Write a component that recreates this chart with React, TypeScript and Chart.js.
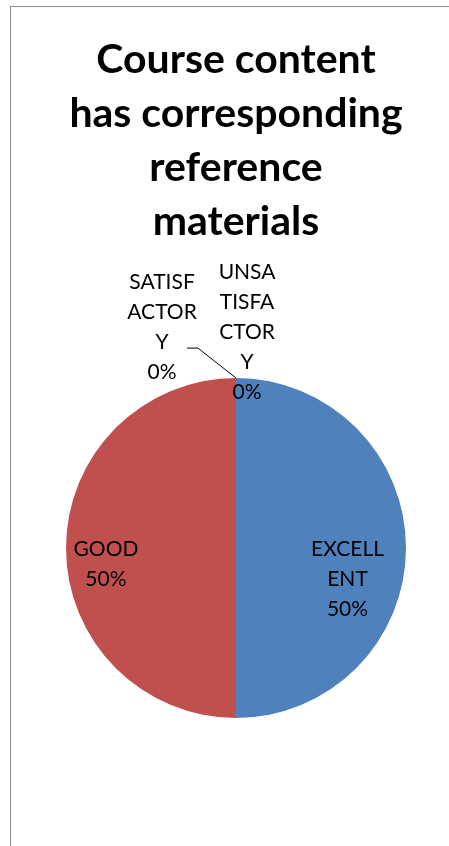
import React, { useEffect, useRef } from 'react';
import { Chart, registerables } from 'chart.js';

Chart.register(...registerables);

const titleLines = ['Course content', 'has corresponding', 'reference', 'materials'];
const categories = ['EXCELLENT', 'GOOD', 'SATISFACTORY', 'UNSATISFACTORY'];
const values = [50, 50, 0, 0];
const colors = ['#4F81BD', '#C0504D', '#9BBB59', '#8064A2'];
// how each category name is wrapped (characters per line) in its data label
const labelChunks = [[6, 3], [4], [6, 5, 1], [4, 5, 4, 1]];

// label block centres relative to the pie centre, in units of the radius
const placements = [
  { dx: 0.656, dy: 0.182 },
  { dx: -0.765, dy: 0.094 },
  { dx: -0.435, dy: -1.297, leader: [[-0.288, -1.176], [-0.224, -1.176]] },
  { dx: 0.065, dy: -1.271 },
];

function splitLabel(text: string, chunks: number[]): string[] {
  const out: string[] = [];
  let pos = 0;
  for (const n of chunks) {
    out.push(text.slice(pos, pos + n));
    pos += n;
  }
  if (pos < text.length) out.push(text.slice(pos));
  return out;
}

const pieLabels = {
  id: 'pieLabels',
  afterDatasetsDraw(chart: any) {
    const ctx = chart.ctx as CanvasRenderingContext2D;
    const meta = chart.getDatasetMeta(0);
    const data = chart.data.datasets[0].data as number[];
    const labels = chart.data.labels as string[];
    const total = data.reduce((a, b) => a + b, 0);
    ctx.save();
    ctx.font = '21px Lato';
    ctx.fillStyle = '#000';
    ctx.textAlign = 'center';
    ctx.textBaseline = 'middle';
    meta.data.forEach((arc: any, i: number) => {
      const { x, y, outerRadius, startAngle, endAngle } = arc.getProps(
        ['x', 'y', 'outerRadius', 'startAngle', 'endAngle'],
        true
      );
      const p = placements[i];
      const cx = x + p.dx * outerRadius;
      const cy = y + p.dy * outerRadius;
      const lines = splitLabel(labels[i], labelChunks[i]);
      lines.push(Math.round((data[i] / total) * 100) + '%');
      const lh = 30;
      lines.forEach((t, k) => {
        ctx.fillText(t, cx, cy + (k - (lines.length - 1) / 2) * lh);
      });
      if (p.leader) {
        const a = (startAngle + endAngle) / 2;
        ctx.beginPath();
        ctx.strokeStyle = '#000';
        ctx.lineWidth = 1;
        ctx.moveTo(x + p.leader[0][0] * outerRadius, y + p.leader[0][1] * outerRadius);
        ctx.lineTo(x + p.leader[1][0] * outerRadius, y + p.leader[1][1] * outerRadius);
        ctx.lineTo(x + Math.cos(a) * outerRadius, y + Math.sin(a) * outerRadius);
        ctx.stroke();
      }
    });
    ctx.restore();
  },
};

export default function App() {
  const ref = useRef<HTMLCanvasElement | null>(null);

  useEffect(() => {
    if (!ref.current) return;
    const chart = new Chart(ref.current, {
      type: 'pie',
      data: {
        labels: categories,
        datasets: [
          {
            data: values,
            backgroundColor: colors,
            borderWidth: 0,
          },
        ],
      },
      options: {
        responsive: false,
        animation: false,
        devicePixelRatio: 1,
        layout: { padding: { left: 0, right: 0, top: 0, bottom: 139 } },
        plugins: {
          legend: { display: false },
          tooltip: { enabled: false },
          title: {
            display: true,
            text: titleLines,
            color: '#000',
            font: { family: 'Lato', size: 41, weight: 'bold', lineHeight: 54 / 41 },
            padding: { top: 26, bottom: 129 },
          },
        },
      },
      plugins: [pieLabels],
    });
    return () => chart.destroy();
  }, []);

  return (
    <div
      style={{
        position: 'fixed',
        left: 0,
        top: 0,
        width: 449,
        height: 846,
        overflow: 'hidden',
        background: '#fff',
      }}
    >
      <div
        style={{
          position: 'absolute',
          left: 10,
          top: 6,
          width: 460,
          height: 860,
          border: '1px solid #8a8a8a',
          boxSizing: 'border-box',
        }}
      >
        <canvas
          ref={ref}
          width={450}
          height={850}
          style={{ position: 'absolute', left: 0, top: 0, width: 450, height: 850 }}
        />
      </div>
    </div>
  );
}
